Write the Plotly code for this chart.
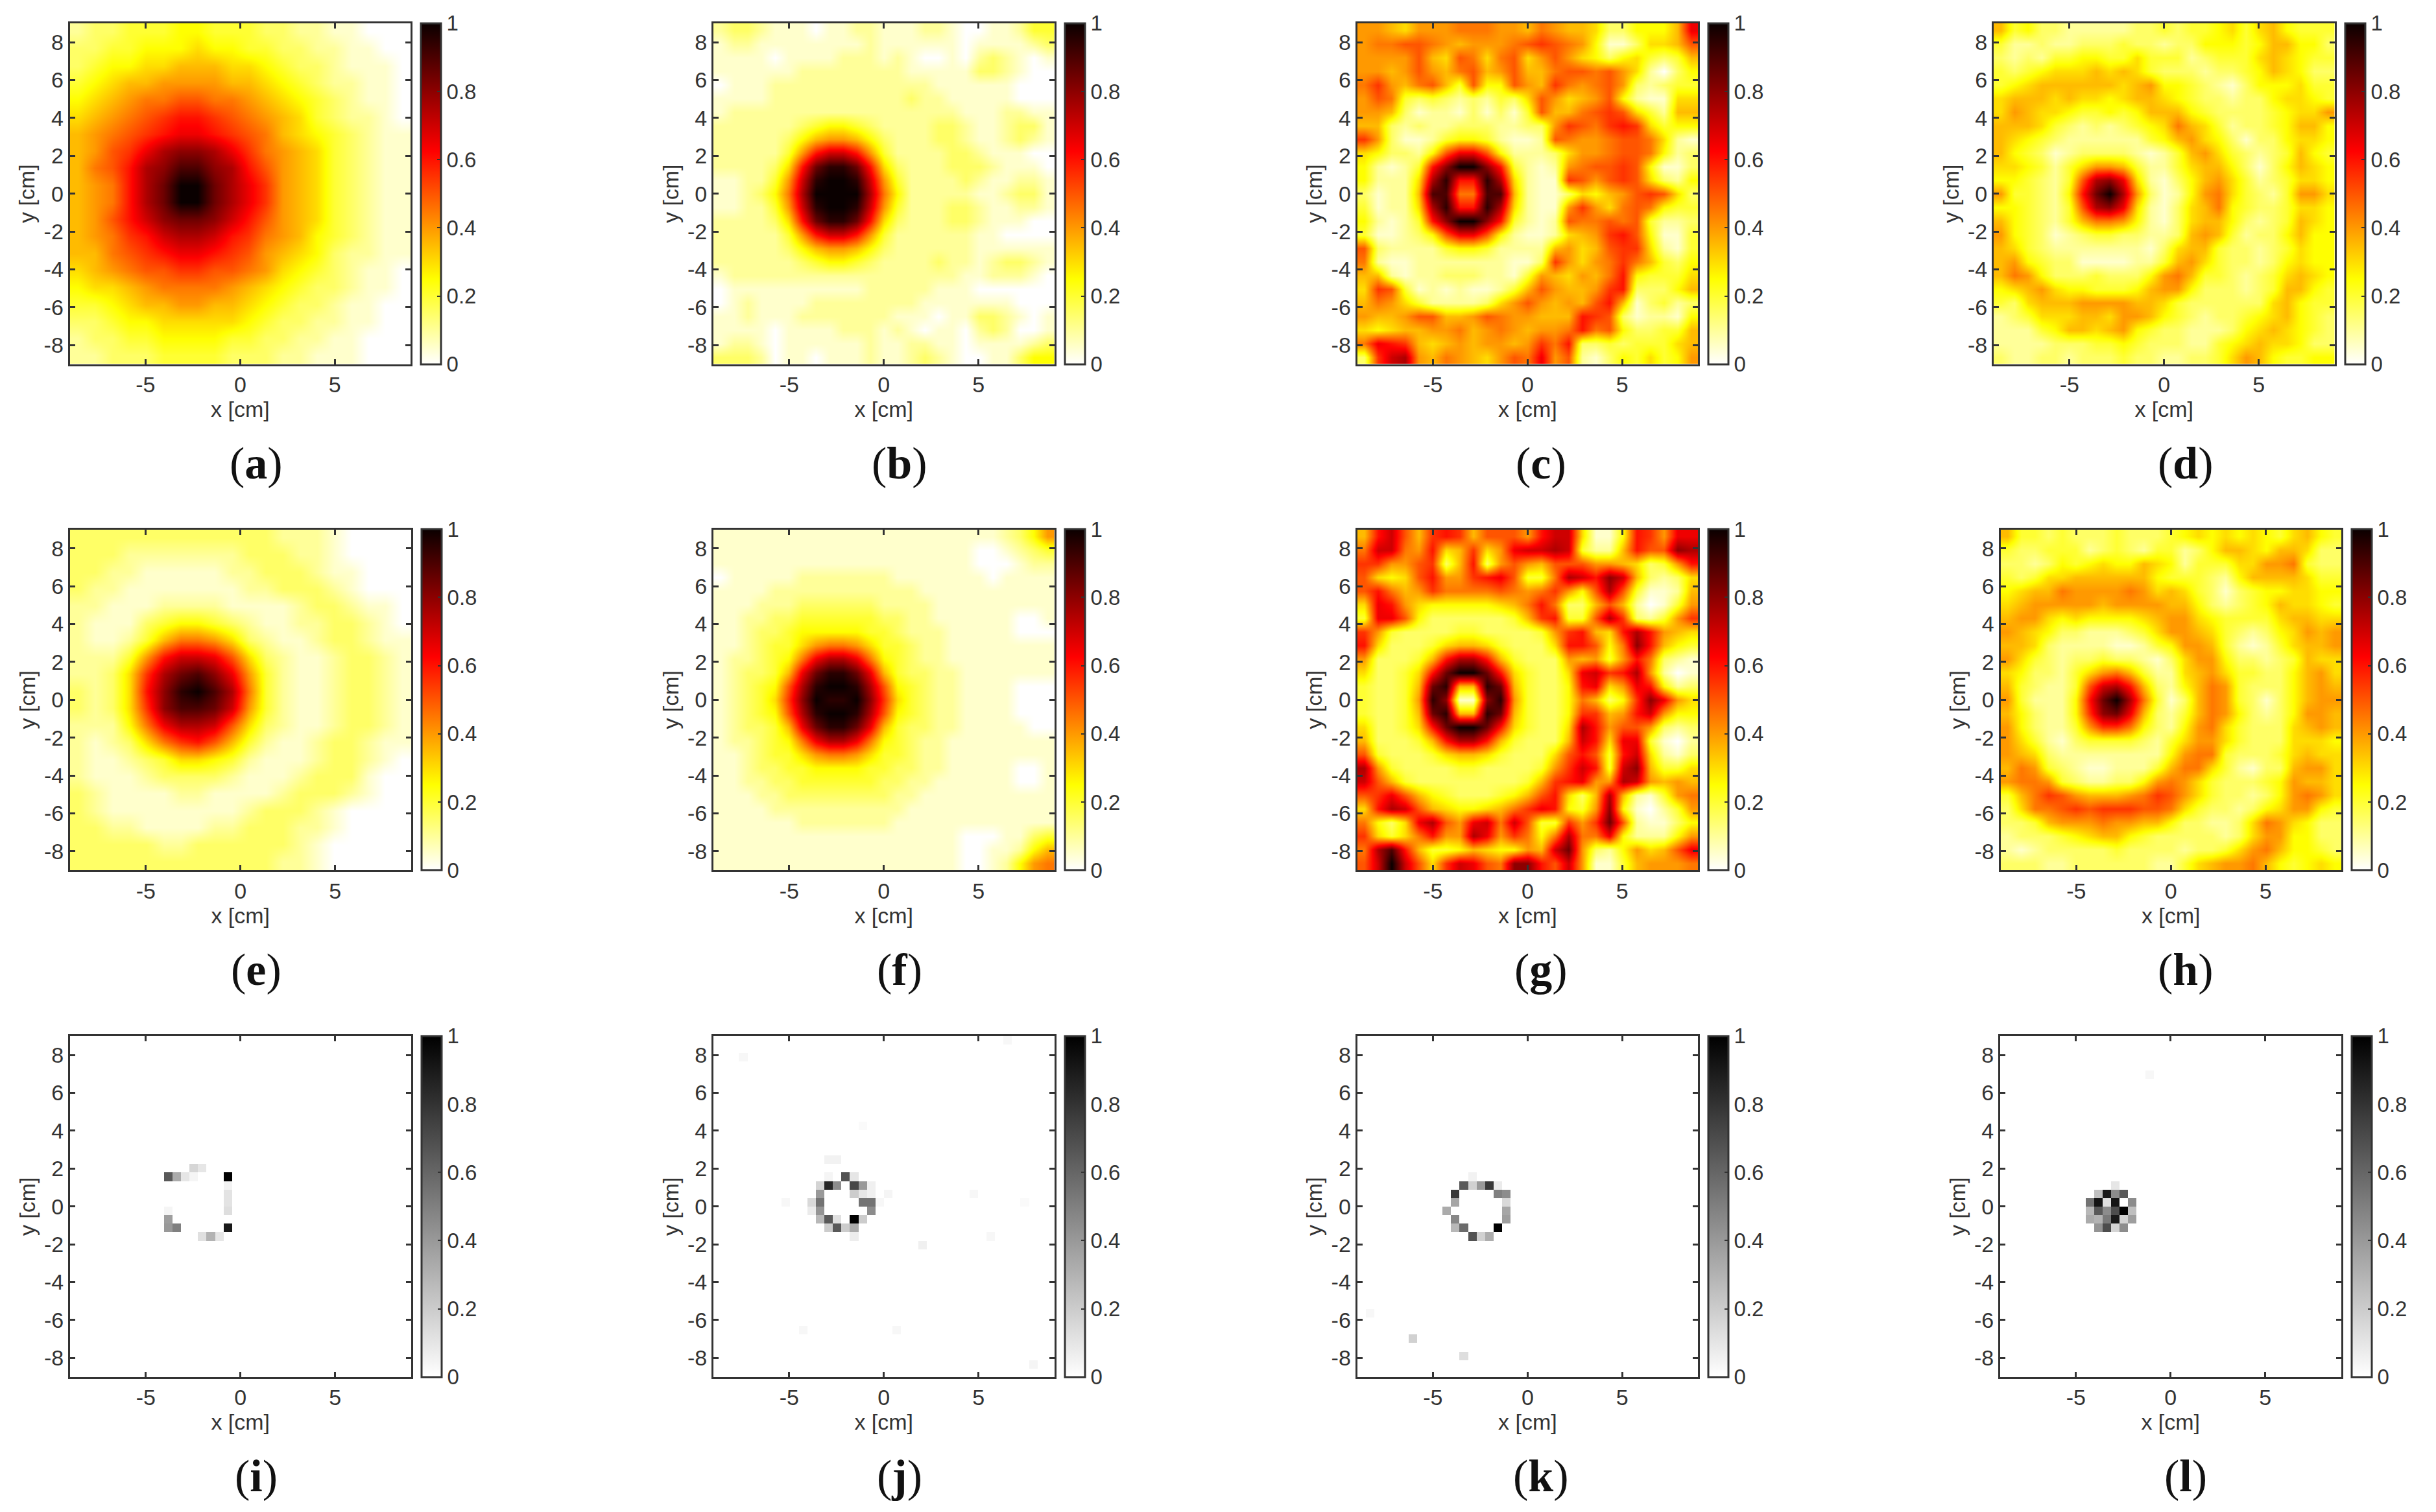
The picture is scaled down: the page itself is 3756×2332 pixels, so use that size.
import plotly.graph_objects as go

W, H = 3756, 2332
LABELS = list("abcdefghijkl")
X_TICKS = [-5, 0, 5]
Y_TICKS = [-8, -6, -4, -2, 0, 2, 4, 6, 8]
CB_TICKS = [0, 0.2, 0.4, 0.6, 0.8, 1]
CB_TEXT = ["0", "0.2", "0.4", "0.6", "0.8", "1"]
# one character per cell, base 36, value = char / 20; rows run from y=+9 down to y=-9
panel_a = ["23344455444332211000","33445556554433221100","34556677766543321110","45677888877654322110",
"567899aa998765432110","6789abccba9876432210","789abcddcba976543211","78abdfggfdb987643211",
"79acfgiigfca87643211","789cfhkkhfdb87643211","789cfhkkhfdb87643211","78aceghhgeca87643211",
"789bceffecb987543211","779abcddcba876532211","6789aabbaa9865432110","56678999987654332110",
"44567788776543321100","33455666665433221100","23344555544332211000","22333444433322111000"]
panel_e = ["33333333333322210000","33322222223332210000","33221111122333211000","32211111112233321000",
"22111222211112332110","21113455432112233210","21124799863211233211","22248ceeda6321123321",
"2236bfhigd8421123321","3236cgjkif9421123321","3236bgiihe8421123321","22259dffea6321123321",
"212369bca74211233211","21123466542111233210","21112333321112333100","32111122111123332100",
"32111111112333210000","33221111223332210000","33333223333332100000","33333333333322100000"]
panel_b = ["2332111011221112210011244","1221111111121111110111123","1111011112221210010232101",
"1111112222222211111332100","0111222222222222111111000","1111222222222232211111000",
"1222222222222222221112211","2222223455432222332112331","2222235788753222332112321",
"2222248ceec84222233211100","222236chjjhc6322233321110","112248ejkkje8422223211221",
"112359fkkkkf9522222112331","112248ejkkje8422233211221","222236chjjhc6322233211100",
"2222248ceec84222222110000","2222235788753222222111111","2222223455432222322123321",
"1222222222222222221122210","0111111111122222111000000","0121111222222221111111000",
"1121112222222111011332101","1111011112221210110232001","1221011111121122110111123",
"3332011011121123210011355"]
panel_f = ["1111111111111111111112358","1111111111111111111001234","1111111111111111111000122",
"0111112222222111111101111","1111222222222221111111111","1112223333332222111111111",
"1122334444443322111111001","1123345555544322211111000","1123446899864432211111111",
"1223459dffd95432211111111","123347dhjjhd7433221111111","12345afjkkjfa543221111000",
"12346bgkjjkgb643221111000","12345afjkkjfa543221111000","123347dhjjhd7433221111100",
"1223459dffd95432211111111","1123446899864432211111111","1123344555544332211111001",
"1122334444443322111111001","1112233333333221111111111","1111222222222211111111111",
"1111112222222111111111111","1111111111111111110001134","1111111111111111110011257",
"1111111111111111110012589"]
panel_c = ["887688899988798776335557d","899aa9878889aba985113667a","8888a76a969a68a8653564347",
"8878a879a78a779aa9a862035","9b879a74a55a87b989a832344","8a94343232436a8678a521166",
"8873122131314a779aba64277","773232233322338ba9bcb6455","b8311245542112a9889aa9621",
"653325adda522236889aa9523","52124cgkkgc421289aaba5113","52226fjccjf6211ba8aba6325",
"31227ii99ii721136578aba63","41226fjccjf62118b869a9544","52124cgkkgc4212a99a9a4223",
"411235adda52112678bca5114","a32222455422227867abb6214","92112222222113b8689b97435",
"7721223332214876879c54446","6ba4121211247a8778bc33357","798642222368a8787ac713423",
"8778aa778a988777cba312215","6567788978987889c9a533447","9dcb767878878b9c334344467",
"3bef8798768a9d8a213546458"]
panel_g = ["7cea7bcb7aaa8cee6115cb8dd","9ee98c67b68deefe4227caagf","bb88ab37c38a87aaa8876348c",
"a656ac88bcda449fecge73236","ac978b9999a989b85afa41127","6dc8655555679c9337a720148",
"4dda533333347bc44afb3248b","b84333344333348bc76cfc876","c63334677643336cca59gc754",
"833347cffc7433387848c9321","63346chkkhc64336debcf8201","43347hj77jh74335cd68dc523",
"43348jg11gj843359735bgd86","43347hj77jh74335bb78ce855","63346chkkhc64336fc8aa8323",
"733347cffc743337ec6dd4102","a43334677643336aca4ce6213","f84333344333348bec4eg7446",
"ea743333333347bcd88fe8787","abda754333457ac637f721489","6cfea7655679bdc548g510248",
"9536dfa8de9ea44b8bha21135","b6469c88fd8b959f99d522258","9fic7445765587eh8325867ad",
"aekea6beda9ggcae811478889"]
panel_d = ["7 4 5 3 3 2 2 2 2 2 3 3 4 3 4 4 5 6 4 6 7 5 4 4 4","4 2 2 3 2 2 3 3 3 4 3 3 2 3 3 5 5 5 4 5 7 7 5 5 3",
"3 2 3 2 4 4 5 5 4 4 6 4 4 4 2 3 4 4 4 6 7 6 5 4 4","4 3 4 5 6 6 6 7 6 7 6 4 3 3 3 2 3 3 4 5 7 6 5 3 3",
"4 5 6 7 7 7 7 7 7 6 7 8 5 5 4 3 2 1 3 5 5 5 6 4 4","6 7 7 7 6 7 6 6 5 6 7 7 6 5 4 3 3 2 3 3 5 6 6 5 4",
"6 8 7 6 6 5 4 4 5 4 5 7 7 7 5 4 3 3 3 3 4 5 6 6 8","7 7 7 6 4 3 2 3 2 3 4 5 6 9 7 6 4 2 3 3 4 5 7 7 5",
"7 6 5 4 3 2 2 2 2 2 2 4 5 7 8 6 5 3 1 3 3 5 6 6 5","7 5 4 3 1 2 3 3 3 3 2 1 2 4 7 8 6 4 3 2 3 4 7 5 4",
"6 6 5 4 2 4 6 8 8 7 4 2 2 4 6 7 7 5 3 1 3 5 7 6 5","5 5 4 3 2 4 a f g d 6 2 1 3 5 7 8 6 4 2 3 4 6 6 5",
"8 4 4 3 2 5 c h k f 8 3 1 2 5 8 9 6 4 3 2 4 8 8 6","5 5 4 3 2 4 a f g d 6 2 1 3 6 7 9 5 4 3 3 4 6 6 5",
"7 5 4 3 2 4 7 9 9 8 5 2 1 3 6 7 7 5 3 2 3 4 7 6 5","8 5 4 3 1 2 3 4 4 3 3 2 2 3 7 8 7 4 2 3 3 5 7 5 5",
"7 6 4 3 2 2 2 2 2 2 2 1 3 6 7 7 4 3 3 2 3 4 6 5 5","7 8 5 4 3 3 1 1 1 1 2 2 4 7 8 6 4 3 3 2 3 5 6 5 5",
"7 9 8 5 3 3 3 4 3 3 3 5 8 9 7 4 4 3 2 3 4 6 7 6 5","5 6 7 8 6 5 5 4 4 4 5 7 8 8 5 3 3 3 2 3 4 7 7 5 4",
"4 3 6 7 7 7 8 8 8 8 7 7 6 4 3 3 3 3 3 3 6 7 5 4 4","2 3 4 6 6 6 7 7 6 8 8 7 5 4 3 2 3 3 4 5 6 7 5 4 3",
"2 2 2 4 5 7 7 6 7 8 5 4 3 3 2 2 2 3 5 6 7 6 5 4 3","2 2 2 2 3 3 3 4 4 5 4 3 3 3 2 2 4 5 6 7 6 6 5 3 3",
"3 2 2 3 3 2 3 3 3 4 3 3 2 2 3 3 4 6 8 7 5 4 4 5 5"]
panel_h = ["7 4 4 3 4 3 3 3 4 3 3 3 4 5 6 5 6 5 6 5 4 6 7 5 4","4 3 3 4 4 4 2 3 4 3 2 4 4 2 3 5 7 7 6 5 7 7 6 3 3",
"3 3 2 3 5 4 5 6 5 5 7 6 5 2 4 4 4 6 6 8 8 9 4 3 3","4 3 4 6 6 7 7 7 7 7 7 5 4 4 4 3 2 5 7 7 7 7 6 4 4",
"5 6 7 7 9 8 8 8 8 9 8 6 7 6 4 3 1 3 4 5 5 6 6 5 5","6 7 8 8 8 8 8 7 8 8 8 8 7 7 5 3 2 3 4 5 7 6 6 5 4",
"7 8 8 6 5 6 5 5 5 5 6 7 8 8 6 5 4 4 4 4 6 7 7 6 6","8 7 6 5 3 3 2 2 2 3 4 6 8 8 7 6 4 3 2 3 5 6 8 7 8",
"7 7 6 3 2 2 2 2 1 1 2 4 5 8 8 7 4 2 1 2 4 6 7 7 8","8 6 4 3 2 3 3 4 3 3 2 1 3 6 8 8 5 3 3 2 3 4 7 6 6",
"6 5 3 3 2 4 6 8 9 7 4 2 2 6 7 8 6 4 4 3 3 5 7 8 6","7 4 3 2 2 4 a e f c 7 3 2 5 7 9 8 4 3 3 3 5 7 8 7",
"8 4 2 2 2 5 c h k f 9 4 1 3 7 9 8 4 3 1 3 5 7 8 8","7 5 3 2 2 5 b g h d 7 3 2 4 7 9 8 5 3 2 3 5 8 8 7",
"8 5 3 2 2 4 8 b b 9 5 3 2 5 8 9 6 4 3 3 3 6 7 8 7","8 6 4 2 1 3 4 4 4 4 3 2 4 6 8 8 6 4 3 3 3 6 6 6 5",
"8 7 6 3 2 2 2 2 2 2 2 2 5 8 9 9 4 3 3 3 4 6 7 6 6","7 9 8 4 3 2 1 1 2 2 2 4 7 9 9 6 4 2 1 3 3 7 8 8 6",
"8 9 9 8 4 3 2 2 3 3 5 8 9 8 6 4 3 3 3 4 5 8 7 7 6","4 7 9 b a 8 7 7 7 8 9 b a 8 6 4 3 3 2 3 5 8 9 8 6",
"3 6 9 9 a b a b b b a a 9 6 4 3 3 2 3 5 6 8 8 5 4","3 3 4 7 8 8 8 9 8 8 7 7 5 3 3 2 2 3 6 9 8 6 5 3 3",
"2 3 3 3 4 5 6 7 7 5 4 3 3 3 3 3 2 3 6 8 8 5 5 3 3","2 1 2 3 3 3 3 3 4 3 3 3 3 2 3 3 4 6 8 9 7 5 5 4 3",
"3 3 3 2 2 3 3 3 3 3 3 2 2 4 6 7 8 8 9 7 5 4 5 6 5"]
# sparse cells on a 40x40 grid: (column, row from top, value)
panel_i = [(14,15,.16),(15,15,.1),(11,16,.65),(12,16,.33),(13,16,.1),(14,16,.04),(18,16,1),(18,17,.05),(18,18,.11),
(18,19,.11),(18,20,.13),(11,20,.04),(11,21,.38),(11,22,.4),(12,22,.5),(18,22,.9),(15,23,.12),(16,23,.3),(17,23,.1)]
panel_j = [(13,14,.05),(14,14,.05),(13,16,.04),(15,16,.68),(16,16,.1),(12,17,.17),(13,17,.85),(14,17,.45),(16,17,.72),
(17,17,.4),(18,17,.06),(12,18,.4),(16,18,.2),(17,18,.1),(18,18,.06),(20,18,.04),(8,19,.03),(11,19,.15),(12,19,.55),
(17,19,.55),(18,19,.55),(19,19,.03),(11,20,.08),(12,20,.42),(18,20,.45),(12,21,.28),(13,21,.65),(14,21,.12),(16,21,1),
(17,21,.2),(13,22,.2),(14,22,.65),(15,22,.2),(16,22,.33),(16,23,.07),(24,24,.06),(3,2,.03),(37,38,.04),(30,18,.03),
(10,34,.03),(21,34,.03),(32,23,.03),(36,19,.02),(34,0,.03),(17,10,.02)]
panel_k = [(13,16,.05),(12,17,.65),(13,17,.18),(14,17,.4),(15,17,.78),(16,17,.08),(11,18,.78),(16,18,.5),(17,18,.45),
(11,19,.35),(17,19,.15),(10,20,.33),(17,20,.35),(11,21,.47),(17,21,.38),(11,22,.28),(12,22,.58),(16,22,1),(13,23,.68),
(14,23,.18),(15,23,.32),(6,35,.18),(12,37,.13),(1,32,.03)]
panel_l = [(13,17,.1),(11,18,.25),(12,18,.9),(13,18,.45),(14,18,.65),(10,19,.55),(11,19,.92),(12,19,.12),(13,19,.92),
(15,19,.45),(10,20,.28),(11,20,.65),(12,20,.45),(13,20,.7),(14,20,1),(15,20,.25),(10,21,.33),(11,21,.3),(12,21,.52),
(13,21,.9),(14,21,.18),(15,21,.38),(11,22,.42),(12,22,.7),(13,22,.17),(14,22,.45),(17,4,.03)]

LEFTS = [[107.6, 1100, 2092.6, 3074], [108, 1100, 2092.6, 3084.5], [108, 1100, 2092.6, 3084]]
TOPS = [36, 816.5, 1598]
SIZE = 525.5
CAP_X = [395, 1387, 2376, 3370]
CAP_Y = [714, 1495, 2276]
INK = "#333333"
FONT = "Liberation Sans, Arial, sans-serif"
HOT = [[0, "#ffffff"], [0.25, "#ffff00"], [0.625, "#ff0000"], [1, "#0a0000"]]
GRAY = [[0, "#ffffff"], [1, "#000000"]]

def parse(rows):
    out = []
    for r in rows:
        r = r.replace(" ", "")
        n = len(rows)
        r = r[:n].ljust(n, r[-1])
        out.append([int(c, 36) / 20 for c in r])
    return out[::-1]

def sparse(cells, n=40):
    z = [[0.0] * n for _ in range(n)]
    for c, r, v in cells:
        z[n - 1 - r][c] = v
    return z

def centers(n):
    step = 18 / n
    return [-9 + step * (k + 0.5) for k in range(n)]

grids = [panel_a, panel_b, panel_c, panel_d, panel_e, panel_f, panel_g, panel_h]
sparses = [panel_i, panel_j, panel_k, panel_l]

fig = go.Figure()
layout = dict(width=W, height=H, margin=dict(l=0, r=0, t=0, b=0), paper_bgcolor="white", plot_bgcolor="white",
              showlegend=False, annotations=[])
for idx in range(12):
    row, col = idx // 4, idx % 4
    left, top = LEFTS[row][col], TOPS[row]
    z = parse(grids[idx]) if idx < 8 else sparse(sparses[idx - 8])
    xs = centers(len(z))
    s = "" if idx == 0 else str(idx + 1)
    y0 = 1 - (top + SIZE) / H
    y1 = 1 - top / H
    fig.add_trace(go.Heatmap(
        z=z, x=xs, y=xs, zmin=0, zmax=1, xaxis="x" + s, yaxis="y" + s,
        colorscale=HOT if idx < 8 else GRAY,
        zsmooth="best" if idx < 8 else False,
        hoverinfo="skip",
        colorbar=dict(x=(left + 541.5) / W, xanchor="left", xpad=0, ypad=0, y=(y0 + y1) / 2, yanchor="middle",
                      len=SIZE / H, lenmode="fraction", thickness=31, thicknessmode="pixels",
                      outlinecolor=INK, outlinewidth=3, borderwidth=0,
                      tickmode="array", tickvals=CB_TICKS, ticktext=CB_TEXT, ticks="inside", ticklen=7,
                      tickwidth=2, tickcolor=INK, tickfont=dict(family=FONT, size=33, color=INK))))
    axis = dict(range=[-9, 9], showgrid=False, zeroline=False, showline=True, linecolor=INK, linewidth=3,
                mirror="ticks", ticks="inside", ticklen=8, tickwidth=2.5, tickcolor=INK, constrain="domain",
                tickfont=dict(family=FONT, size=34, color=INK))
    layout["xaxis" + s] = dict(axis, domain=[left / W, (left + SIZE) / W], anchor="y" + s, tickmode="array",
                               tickvals=X_TICKS, ticktext=[str(v) for v in X_TICKS],
                               title=dict(text="x [cm]", standoff=5, font=dict(family=FONT, size=34, color=INK)))
    layout["yaxis" + s] = dict(axis, domain=[y0, y1], anchor="x" + s, tickmode="array",
                               tickvals=Y_TICKS, ticktext=[str(v) for v in Y_TICKS],
                               title=dict(text="y [cm]", standoff=4, font=dict(family=FONT, size=34, color=INK)))
    layout["annotations"].append(dict(
        text="(<b>%s</b>)" % LABELS[idx], x=CAP_X[col] / W, y=1 - CAP_Y[row] / H, xref="paper", yref="paper",
        xanchor="center", yanchor="middle", showarrow=False,
        font=dict(family="Liberation Serif, Times New Roman, serif", size=70, color="#111111")))
fig.update_layout(**layout)
fig.write_html("out.html", config={"displayModeBar": False},
               post_script="document.body.style.margin='0';document.documentElement.style.overflow='hidden';")
